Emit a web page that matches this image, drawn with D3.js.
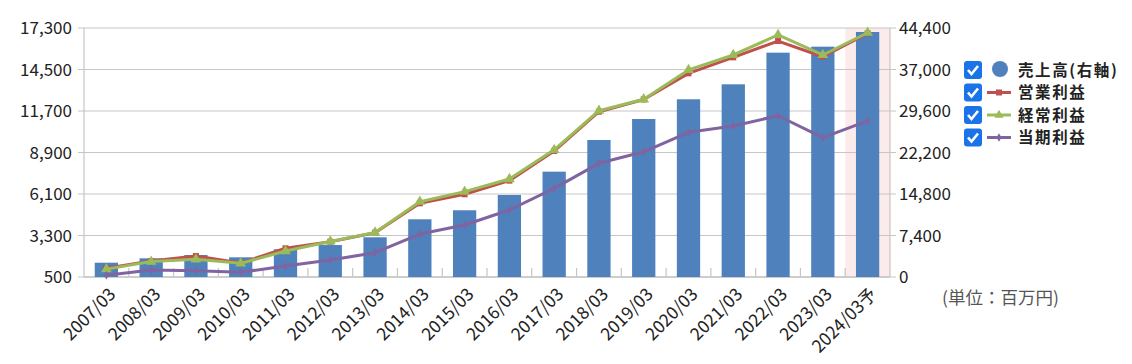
<!DOCTYPE html>
<html><head><meta charset="utf-8">
<script src="https://cdn.jsdelivr.net/npm/d3@7"></script>
<style>
html,body{margin:0;padding:0;background:#fff;}
svg{display:block;font-family:"Noto Sans CJK JP","Noto Sans",sans-serif;}
</style></head>
<body><svg id="c" width="1132" height="364"></svg>
<script>
const categories = ["2007/03","2008/03","2009/03","2010/03","2011/03","2012/03","2013/03","2014/03","2015/03","2016/03","2017/03","2018/03","2019/03","2020/03","2021/03","2022/03","2023/03","2024/03予"];
const sales     = [2550, 3330, 3920, 3510, 4940, 5700, 7080, 10290, 11900, 14620, 18780, 24430, 28170, 31690, 34360, 40000, 41070, 43690];
const operating = [1090, 1580, 1920, 1440, 2440, 2880, 3490, 5470, 6080, 7000, 9000, 11650, 12480, 14240, 15320, 16420, 15360, 16940];
const ordinary  = [1030, 1540, 1690, 1420, 2250, 2900, 3500, 5580, 6260, 7110, 9080, 11720, 12490, 14470, 15480, 16830, 15480, 16980];
const netIncome = [620, 970, 925, 820, 1240, 1650, 2140, 3400, 4010, 5020, 6480, 8170, 8950, 10260, 10690, 11380, 9900, 11030];
const leftTicks  = [500, 3300, 6100, 8900, 11700, 14500, 17300];
const rightTicks = [0, 7400, 14800, 22200, 29600, 37000, 44400];
const legendLabels = ["売上高(右軸)", "営業利益", "経常利益", "当期利益"];
const unitLabel = "(単位：百万円)";

const svg = d3.select("#c");
const L = 84, R = 890, T = 28, B = 277;
const x = d3.scaleBand().domain(categories).range([L, R]).paddingInner(0.48).paddingOuter(0.24);
const xb = d3.scaleBand().domain(categories).range([L, R]);
const yL = d3.scaleLinear().domain([500, 17300]).range([B, T]);
const yR = d3.scaleLinear().domain([0, 44400]).range([B, T]);

const grid = "#c6c6c6";
const last = categories[categories.length - 1];
svg.append("rect").attr("x", xb(last)).attr("y", T).attr("width", xb.bandwidth()).attr("height", B - T)
  .attr("fill", "#fcebeb");

svg.append("g").selectAll("line").data(leftTicks).join("line")
  .attr("x1", L - 6).attr("x2", R + 6).attr("y1", d => yL(d)).attr("y2", d => yL(d))
  .attr("stroke", grid).attr("stroke-width", 1.2);
svg.append("line").attr("x1", L).attr("x2", L).attr("y1", T).attr("y2", B).attr("stroke", grid).attr("stroke-width", 1.2);
svg.append("line").attr("x1", R).attr("x2", R).attr("y1", T).attr("y2", B).attr("stroke", grid).attr("stroke-width", 1.2);
svg.append("line").attr("x1", L).attr("x2", R).attr("y1", B).attr("y2", B).attr("stroke", grid).attr("stroke-width", 1.5);
svg.append("g").selectAll("line").data(categories.slice(1)).join("line")
  .attr("x1", d => xb(d)).attr("x2", d => xb(d)).attr("y1", B).attr("y2", B - 9)
  .attr("stroke", grid).attr("stroke-width", 1.2);

svg.append("g").selectAll("text").data(leftTicks).join("text")
  .attr("x", L - 12).attr("y", d => yL(d)).attr("dy", "0.36em").attr("text-anchor", "end")
  .attr("font-size", 17).attr("fill", "#222").text(d => d3.format(",")(d));
svg.append("g").selectAll("text").data(rightTicks).join("text")
  .attr("x", R + 9).attr("y", d => yR(d)).attr("dy", "0.36em").attr("text-anchor", "start")
  .attr("font-size", 17).attr("fill", "#222").text(d => d3.format(",")(d));

svg.append("g").selectAll("rect").data(sales).join("rect")
  .attr("x", (d, i) => x(categories[i])).attr("width", x.bandwidth())
  .attr("y", d => yR(d)).attr("height", d => B - yR(d)).attr("fill", "#4f81bd");

const cx = i => xb(categories[i]) + xb.bandwidth() / 2;
const line = d3.line().x((d, i) => cx(i)).y(d => yL(d));
function series(data, color, marker) {
  svg.append("path").datum(data).attr("d", line).attr("fill", "none").attr("stroke", color).attr("stroke-width", 3).attr("stroke-linejoin", "round");
  const g = svg.append("g");
  data.forEach((d, i) => {
    g.append("path").attr("d", d3.symbol().type(marker.type).size(marker.size)())
      .attr("transform", `translate(${cx(i)},${yL(d)})`).attr("fill", color);
  });
}
series(operating, "#c0504d", {type: d3.symbolSquare, size: 36});
series(ordinary, "#9bbb59", {type: d3.symbolTriangle, size: 50});
series(netIncome, "#8064a2", {type: d3.symbolDiamond, size: 22});

svg.append("g").selectAll("text").data(categories).join("text")
  .attr("transform", (d, i) => `translate(${cx(i) + 6},${B + 14}) rotate(-45)`)
  .attr("text-anchor", "end").attr("dy", "0.35em")
  .attr("font-size", 17.5).attr("fill", "#222").text(d => d);

const lg = svg.append("g");
const colors = ["#4f81bd", "#c0504d", "#9bbb59", "#8064a2"];
legendLabels.forEach((t, i) => {
  const yy = 70 + i * 22.5;
  lg.append("rect").attr("x", 964).attr("y", yy - 9).attr("width", 18).attr("height", 18).attr("rx", 3).attr("fill", "#1a73e8");
  lg.append("path").attr("d", `M968,${yy} L971.5,${yy + 4} L978,${yy - 4}`).attr("fill", "none").attr("stroke", "#fff").attr("stroke-width", 2.6);
  if (i === 0) {
    lg.append("circle").attr("cx", 1000).attr("cy", yy - 1).attr("r", 8).attr("fill", colors[0]);
  } else {
    lg.append("line").attr("x1", 987).attr("x2", 1011).attr("y1", yy).attr("y2", yy).attr("stroke", colors[i]).attr("stroke-width", 3);
    const type = [null, d3.symbolSquare, d3.symbolTriangle, d3.symbolDiamond][i];
    lg.append("path").attr("d", d3.symbol().type(type).size(i === 3 ? 22 : 36)()).attr("transform", `translate(999,${yy})`).attr("fill", colors[i]);
  }
  lg.append("text").attr("x", 1018).attr("y", yy).attr("dy", "0.36em").attr("font-size", 15.5)
    .attr("letter-spacing", 1.6).attr("font-weight", "bold").attr("fill", "#222").text(t);
});

svg.append("text").attr("x", 942).attr("y", 298).attr("dy", "0.35em").attr("font-size", 17.5).attr("fill", "#555").text(unitLabel);
</script></body></html>
